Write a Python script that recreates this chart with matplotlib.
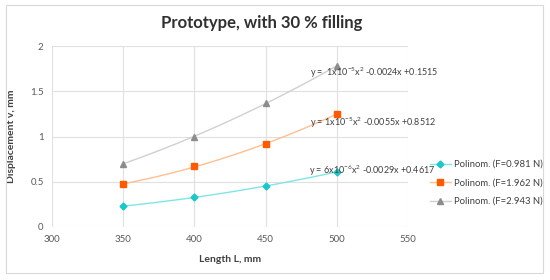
import numpy as np
import matplotlib
matplotlib.use("Agg")
import matplotlib.pyplot as plt
from matplotlib.patches import Rectangle

plt.rcParams['font.family'] = ['Lato', 'DejaVu Sans']
plt.rcParams['mathtext.fontset'] = 'custom'
plt.rcParams['mathtext.rm'] = 'Lato'
plt.rcParams['mathtext.it'] = 'Lato'

lengths = [350, 400, 450, 500]
disp_0981 = [0.23, 0.33, 0.45, 0.61]
disp_1962 = [0.475, 0.67, 0.915, 1.25]
disp_2943 = [0.70, 1.00, 1.367, 1.78]
labels = ["Polinom. (F=0.981 N)", "Polinom. (F=1.962 N)", "Polinom. (F=2.943 N)"]
equations = [r"y = 6x10$^{-6}$x$^{2}$ -0.0029x +0.4617",
             r"y = 1x10$^{-5}$x$^{2}$ -0.0055x +0.8512",
             r"y =  1x10$^{-5}$x$^{2}$ -0.0024x +0.1515"]
xticks = [300, 350, 400, 450, 500, 550]
yticks = [0, 0.5, 1, 1.5, 2]
yticklabels = ["0", "0.5", "1", "1.5", "2"]

fig = plt.figure(figsize=(5.5, 2.8), dpi=100)
fig.patches.append(Rectangle((6/550, 1-273/280), 537/550, 268/280, transform=fig.transFigure,
                             fill=False, edgecolor='#d9d9d9', linewidth=0.8))
ax = fig.add_axes([52/550, 1-227/280, 356/550, 181/280])

series = [disp_0981, disp_1962, disp_2943]
marker_colors = ['#19c8c8', '#ff5a00', '#8c8c8c']
line_colors = ['#7fe6e6', '#ffbf90', '#d0d0d0']
markers = ['D', 's', '^']
msizes = [3.5, 4.5, 5]
eq_pos = [(309/550, 1-171/280), (310/550, 1-123/280), (310/550, 1-73/280)]

for vals, mc, lc, mk, ms, lab, eq, pos in zip(series, marker_colors, line_colors, markers, msizes, labels, equations, eq_pos):
    coef = np.polyfit(lengths, vals, 2)
    xs = np.linspace(lengths[0], lengths[-1], 100)
    ax.plot(xs, np.polyval(coef, xs), color=lc, lw=1.0, zorder=2)
    ax.plot(lengths, vals, linestyle='none', marker=mk, color=mc, markersize=ms, zorder=3)
    ax.plot([], [], color=lc, lw=1.0, marker=mk, markerfacecolor=mc, markeredgecolor=mc,
            markersize=ms, label=lab)
    fig.text(pos[0], pos[1], eq, fontsize=6.5, color='#404040', va='center', ha='left')

ax.set_xlim(300, 550)
ax.set_ylim(0, 2)
ax.set_xticks(xticks)
ax.set_yticks(yticks)
ax.set_yticklabels(yticklabels)
ax.grid(True, color='#e0e0e0', linewidth=0.8)
ax.set_axisbelow(True)
for s in ax.spines.values():
    s.set_visible(False)
ax.tick_params(length=0, labelsize=7, colors='#595959', pad=6)

ax.set_xlabel("Length L, mm", fontsize=7.5, fontweight='bold', color='#404040', labelpad=8)
ax.set_ylabel("Displacement v, mm", fontsize=7.5, fontweight='bold', color='#404040', labelpad=10)
fig.text(262/550, 1-23/280, "Prototype, with 30 % filling", fontsize=12, fontweight='bold',
         color='#303030', ha='center', va='center')

fig.legend(loc='center left', bbox_to_anchor=(430/550, 1-183/280), frameon=False, fontsize=6.8,
           handlelength=2.2, labelspacing=1.0, handletextpad=0.3, labelcolor='#404040',
           borderaxespad=0, borderpad=0)

fig.savefig("out.png", dpi=100)
